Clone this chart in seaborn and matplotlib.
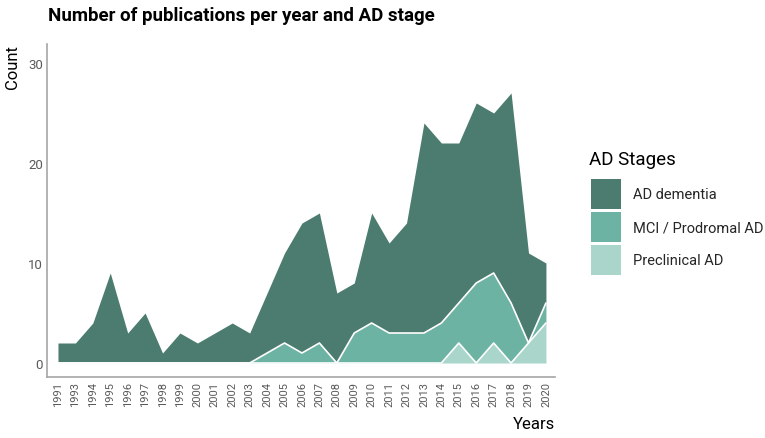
import matplotlib
matplotlib.use("Agg")
import matplotlib.pyplot as plt
import seaborn as sns
import numpy as np
import pandas as pd
from matplotlib.patches import Patch

years = ["1991", "1993", "1994", "1995", "1996", "1997", "1998", "1999", "2000",
         "2001", "2002", "2003", "2004", "2005", "2006", "2007", "2008", "2009",
         "2010", "2011", "2012", "2013", "2014", "2015", "2016", "2017", "2018",
         "2019", "2020"]
ad_dementia = [2, 2, 4, 9, 3, 5, 1, 3, 2, 3, 4, 3, 6, 9, 13, 13, 7, 5,
               11, 9, 11, 21, 18, 16, 18, 16, 21, 9, 4]
mci_prodromal = [0, 0, 0, 0, 0, 0, 0, 0, 0, 0, 0, 0, 1, 2, 1, 2, 0, 3,
                 4, 3, 3, 3, 4, 4, 8, 7, 6, 0, 2]
preclinical = [0, 0, 0, 0, 0, 0, 0, 0, 0, 0, 0, 0, 0, 0, 0, 0, 0, 0,
               0, 0, 0, 0, 0, 2, 0, 2, 0, 2, 4]
stages = ["AD dementia", "MCI / Prodromal AD", "Preclinical AD"]
colors = ["#4b7c6f", "#6db3a3", "#a9d5ca"]

sns.set_theme(style="white")
fam = ["Liberation Sans Narrow", "Roboto", "DejaVu Sans"]
plt.rcParams["font.family"] = fam

df = pd.DataFrame({"Years": years, stages[0]: ad_dementia,
                   stages[1]: mci_prodromal, stages[2]: preclinical})
x = np.arange(len(years))

fig = plt.figure(figsize=(7.65, 4.39), dpi=100)
ax = fig.add_axes([47 / 765, 1 - 378 / 439, (555 - 47) / 765, (378 - 45) / 439])

# stack: preclinical bottom, MCI middle, AD top
ax.stackplot(x, df[stages[2]], df[stages[1]], df[stages[0]],
             colors=[colors[2], colors[1], colors[0]], linewidth=0)
cum1 = df[stages[2]].values
cum2 = cum1 + df[stages[1]].values
sns.lineplot(x=x, y=cum1, ax=ax, color="white", linewidth=1.2)
sns.lineplot(x=x, y=cum2, ax=ax, color="white", linewidth=1.2)

ax.set_xlim(-0.63, len(years) - 1 + 0.52)
ax.set_ylim(-1.4, 31.9)
ax.set_xticks(x)
ax.set_xticklabels(years, rotation=90, fontsize=8, color="#595959")
ax.set_yticks([0, 10, 20, 30])
ax.set_yticklabels(["0", "10", "20", "30"], fontsize=9.5, color="#595959")
ax.tick_params(axis="both", length=0, pad=3)

for s in ["top", "right"]:
    ax.spines[s].set_visible(False)
for s in ["left", "bottom"]:
    ax.spines[s].set_color("#a6a6a6")
    ax.spines[s].set_linewidth(1.2)

ax.set_xlabel("")
ax.set_ylabel("")
fig.text(12 / 765, 1 - 45 / 439, "Count", rotation=90, ha="center", va="top",
         fontsize=12, color="black")
fig.text(555 / 765, 1 - 425 / 439, "Years", ha="right", va="center",
         fontsize=12, color="black")
fig.text(48 / 765, 1 - 16 / 439, "Number of publications per year and AD stage",
         ha="left", va="center", fontsize=13.5, fontweight="bold", color="black")

fig.text(589 / 765, 1 - 160 / 439, "AD Stages", ha="left", va="center",
         fontsize=13.5, color="black")
handles = [Patch(facecolor=c, edgecolor="none") for c in colors]
leg = fig.legend(handles, stages, loc="upper left",
                 bbox_to_anchor=(591 / 765, 1 - 180 / 439),
                 frameon=False, fontsize=10.5,
                 handlelength=2.05, handleheight=2.78,
                 labelspacing=0.2, handletextpad=0.8, borderaxespad=0,
                 borderpad=0)

fig.savefig("out.png", dpi=100)
